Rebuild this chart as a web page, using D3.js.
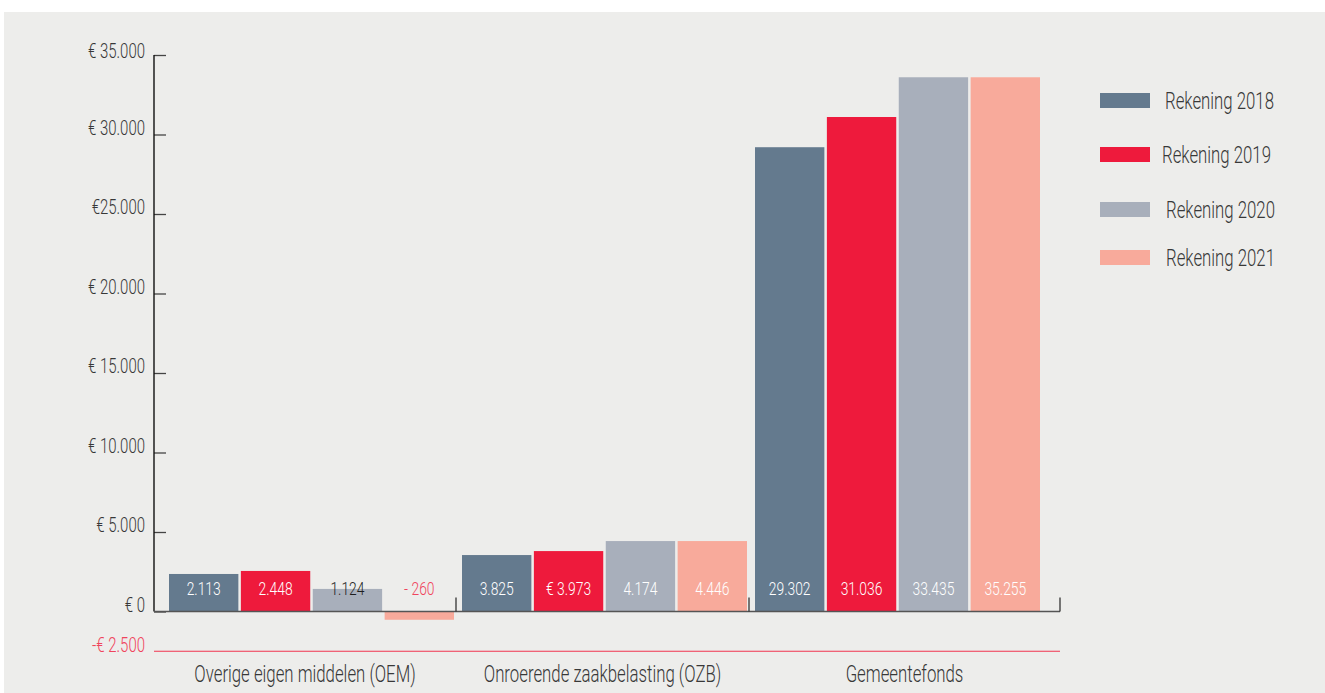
<!DOCTYPE html>
<html>
<head>
<meta charset="utf-8">
<script src="https://cdn.jsdelivr.net/npm/d3@7"></script>
<style>
  html, body { margin: 0; padding: 0; background: #ffffff; }
  svg { display: block; }
  text { font-family: Roboto, "DejaVu Sans Condensed", sans-serif; font-weight: 300; }
</style>
</head>
<body>
<svg id="chart" width="1325" height="693"></svg>
<script>
// ---- data ----
const categories = ["Overige eigen middelen (OEM)", "Onroerende zaakbelasting (OZB)", "Gemeentefonds"];
const seriesNames = ["Rekening 2018", "Rekening 2019", "Rekening 2020", "Rekening 2021"];
const seriesColors = ["#647a8e", "#ee1a3c", "#a8afbb", "#f8aa9b"];
// bar heights as drawn in the picture
const values2018 = [2360, 3550, 29200];
const values2019 = [2550, 3800, 31100];
const values2020 = [1420, 4430, 33600];
const values2021 = [-520, 4430, 33600];
// value labels as printed on the bars
const labels2018 = ["2.113", "3.825", "29.302"];
const labels2019 = ["2.448", "€ 3.973", "31.036"];
const labels2020 = ["1.124", "4.174", "33.435"];
const labels2021 = ["- 260", "4.446", "35.255"];
const tickValues = [0, 5000, 10000, 15000, 20000, 25000, 30000, 35000];
const tickLabels = ["€ 0", "€ 5.000", "€ 10.000", "€ 15.000", "€ 20.000", "€25.000", "€ 30.000", "€ 35.000"];
const refValue = -2500;
const refLabel = "-€ 2.500";

const seriesValues = [values2018, values2019, values2020, values2021];
const seriesLabels = [labels2018, labels2019, labels2020, labels2021];

// ---- drawing ----
const svg = d3.select("#chart");
const textColor = "#383838";
const SX = 0.73; // horizontal condensing of the font

function condText(parent, x, y, str, size, anchor, fill) {
  const g = parent.append("g").attr("transform", `translate(${x},${y}) scale(${SX},1)`);
  g.append("text").attr("x", 0).attr("y", 0)
    .attr("text-anchor", anchor).attr("font-size", size).attr("fill", fill).text(str);
  return g;
}

svg.append("rect").attr("x", 4).attr("y", 12).attr("width", 1321).attr("height", 681).attr("fill", "#ededeb");

const y = d3.scaleLinear().domain([0, 35000]).range([611.5, 55]);
const x0 = d3.scaleBand().domain(categories).range([163, 1042]).paddingInner(0).paddingOuter(0);
const x1 = d3.scaleBand().domain(seriesNames).range([6, 291]).paddingInner(0.035);

// y axis
const axisX = 154;
const axisEnd = 1060;
const yAxis = d3.axisRight(y).tickValues(tickValues).tickSize(12).tickFormat("");
const gy = svg.append("g").attr("transform", `translate(${axisX},0)`).call(yAxis);
gy.select(".domain").remove();
gy.selectAll(".tick line").attr("stroke", "#444").attr("stroke-width", 1.3);
svg.append("line").attr("x1", axisX).attr("x2", axisX).attr("y1", y(35000)).attr("y2", y(0))
  .attr("stroke", "#111").attr("stroke-width", 1.4);

const yLab = svg.append("g");
tickValues.forEach((d, i) => {
  condText(yLab, 145, y(d) + (d === 35000 ? 3 : 0), tickLabels[i], 20.5, "end", textColor);
});

// reference line
svg.append("line").attr("x1", axisX).attr("x2", axisEnd).attr("y1", y(refValue)).attr("y2", y(refValue))
  .attr("stroke", "#f0344f").attr("stroke-width", 1.2);
condText(svg, 145, y(refValue) + 1, refLabel, 20.5, "end", "#f0445c");

// bars
const groups = svg.append("g").selectAll("g").data(categories).join("g")
  .attr("transform", d => `translate(${x0(d)},0)`);

groups.each(function(cat, ci) {
  const g = d3.select(this);
  seriesNames.forEach((s, si) => {
    const v = seriesValues[si][ci];
    g.append("rect")
      .attr("x", x1(s)).attr("width", x1.bandwidth())
      .attr("y", y(Math.max(0, v))).attr("height", Math.abs(y(v) - y(0)))
      .attr("fill", seriesColors[si]);
  });
});

// baseline
svg.append("line").attr("x1", axisX).attr("x2", axisEnd).attr("y1", y(0)).attr("y2", y(0))
  .attr("stroke", "#555").attr("stroke-width", 1.6);
// group separators
const seps = categories.slice(1).map(c => x0(c)).concat([axisEnd]);
svg.append("g").selectAll("line").data(seps).join("line")
  .attr("x1", d => d).attr("x2", d => d).attr("y1", y(0)).attr("y2", y(0) - 14)
  .attr("stroke", "#333").attr("stroke-width", 1.3);

// value labels
groups.each(function(cat, ci) {
  const g = d3.select(this);
  seriesNames.forEach((s, si) => {
    const v = seriesValues[si][ci];
    let fill = "#ffffff";
    if (v < 0) fill = "#f0445c";
    else if (y(v) > 582) fill = "#1e1e1e";
    condText(g, x1(s) + x1.bandwidth() / 2, 595, seriesLabels[si][ci], 19, "middle", fill);
  });
});

// category labels, centred between the separators
const bounds = [axisX].concat(seps);
categories.forEach((c, i) => {
  condText(svg, (bounds[i] + bounds[i + 1]) / 2, 682, c, 23, "middle", textColor);
});

// legend
const legendY = [100.5, 154.5, 209.5, 257.5];
const legendTextX = [1165, 1162, 1166, 1166];
seriesNames.forEach((s, i) => {
  svg.append("rect").attr("x", 1100).attr("y", legendY[i] - 7.5)
    .attr("width", 50).attr("height", 15).attr("fill", seriesColors[i]);
  condText(svg, legendTextX[i], legendY[i] + 8, s, 23, "start", textColor);
});
</script>
</body>
</html>
